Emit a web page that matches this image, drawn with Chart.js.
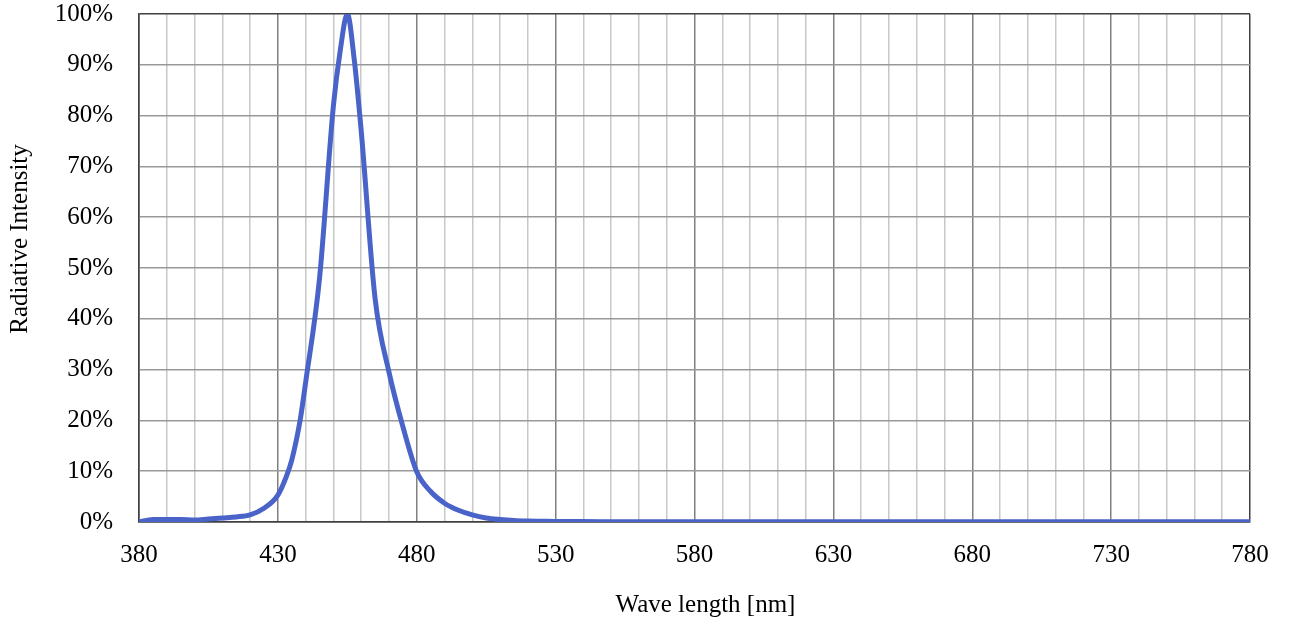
<!DOCTYPE html>
<html>
<head>
<meta charset="utf-8">
<script src="https://cdn.jsdelivr.net/npm/chart.js@4.4.1/dist/chart.umd.min.js"></script>
<style>
  body { margin: 0; background: #fff; }
  #chart { display: block; }
</style>
</head>
<body>
<canvas id="chart" width="1289" height="623"></canvas>
<script>
// spectrum (nm, %)
const waveLength = [380, 385, 390, 395, 400, 405, 410, 415, 420, 425, 430, 433, 435, 438, 440, 445, 450, 452.5, 455, 457.5, 460, 465, 470, 475, 480, 485, 490, 495, 500, 505, 510, 515, 520, 525, 530, 540, 560, 600, 650, 700, 750, 780];
const intensity = [0, 0.5, 0.5, 0.5, 0.4, 0.6, 0.8, 1.0, 1.4, 2.7, 5.3, 8.9, 12.2, 20, 27.5, 48, 82, 93, 100, 91, 77, 44, 29.5, 18.8, 9.9, 6.0, 3.7, 2.3, 1.4, 0.8, 0.5, 0.3, 0.2, 0.15, 0.1, 0.08, 0.05, 0.05, 0.05, 0.05, 0.05, 0.05];
const xLabels = [380, 430, 480, 530, 580, 630, 680, 730, 780];
const xTitle = "Wave length [nm]";
const yTitle = "Radiative Intensity";

const fontFamily = "'Liberation Serif', 'Times New Roman', serif";
const font = { family: fontFamily, size: 25 };

const points = waveLength.map((w, i) => ({ x: w, y: intensity[i] }));

// axis titles drawn by hand so they can sit where the original has them
const axisTitles = {
  id: "axisTitles",
  afterDraw(chart) {
    const ctx = chart.ctx;
    const area = chart.chartArea;
    ctx.save();
    ctx.fillStyle = "#000";
    ctx.font = "25px " + fontFamily;
    ctx.textAlign = "center";
    ctx.textBaseline = "middle";
    ctx.fillText(xTitle, (area.left + area.right) / 2 + 11, area.bottom + 83);
    ctx.translate(20, area.top + 225);
    ctx.rotate(-Math.PI / 2);
    ctx.fillText(yTitle, 0, 0);
    ctx.restore();
  }
};

new Chart(document.getElementById("chart"), {
  type: "line",
  data: {
    datasets: [{
      data: points,
      borderColor: "#4a63c8",
      borderWidth: 5,
      pointRadius: 0,
      cubicInterpolationMode: "monotone",
      fill: false
    }]
  },
  options: {
    responsive: false,
    animation: false,
    layout: { padding: { left: 0, right: 39, top: 14, bottom: 0 } },
    plugins: { legend: { display: false }, tooltip: { enabled: false } },
    scales: {
      x: {
        type: "linear",
        min: 380,
        max: 780,
        afterFit: s => {
          s.height = 101;
          s.paddingLeft = 0;
          s.paddingRight = 0;
        },
        afterBuildTicks: s => {
          const t = [];
          for (let v = 380; v <= 780; v += 10) t.push({ value: v });
          s.ticks = t;
        },
        ticks: {
          autoSkip: false,
          maxRotation: 0,
          padding: 18,
          color: "#000",
          font: font,
          callback: v => xLabels.includes(v) ? String(v) : ""
        },
        grid: {
          drawTicks: false,
          lineWidth: 1.5,
          color: c => {
            const v = c.tick.value;
            if (v === 380 || v === 780) return "#404040";
            return (v - 380) % 50 === 0 ? "#808080" : "#c8c8c8";
          }
        },
        border: { color: "#404040", width: 1.5 }
      },
      y: {
        min: 0,
        max: 100,
        afterFit: s => {
          s.width = 139;
          s.paddingTop = 0;
          s.paddingBottom = 0;
        },
        ticks: {
          stepSize: 10,
          padding: 26,
          color: "#000",
          font: font,
          callback: v => v + "%"
        },
        grid: {
          drawTicks: false,
          lineWidth: 1.5,
          color: c => (c.tick.value === 0 || c.tick.value === 100) ? "#404040" : "#999999"
        },
        border: { color: "#404040", width: 1.5 }
      }
    }
  },
  plugins: [axisTitles]
});
</script>
</body>
</html>
